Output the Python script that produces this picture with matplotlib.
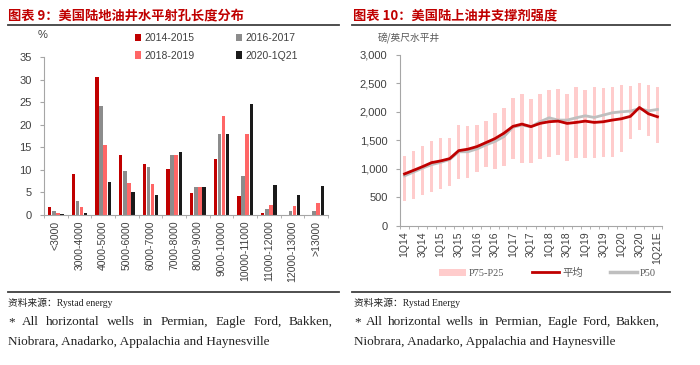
import matplotlib.pyplot as plt
import numpy as np

plt.rcParams['font.family'] = ['Liberation Sans', 'Noto Sans CJK SC']

# ---- left chart: horizontal lateral length distribution (%)
length_bins = ['<3000', '3000-4000', '4000-5000', '5000-6000', '6000-7000',
               '7000-8000', '8000-9000', '9000-10000', '10000-11000',
               '11000-12000', '12000-13000', '>13000']
share_2014_2015 = [1.7, 9.1, 30.6, 13.3, 11.3, 10.2, 4.9, 12.4, 4.3, 0.4, 0.0, 0.1]
share_2016_2017 = [0.9, 3.2, 24.2, 9.7, 10.7, 13.3, 6.3, 18.0, 8.7, 1.4, 0.8, 0.9]
share_2018_2019 = [0.5, 1.7, 15.4, 7.0, 6.9, 13.4, 6.3, 21.9, 17.9, 2.3, 2.0, 2.7]
share_2020_1q21 = [0.3, 0.5, 7.3, 5.2, 4.5, 14.0, 6.3, 18.0, 24.6, 6.7, 4.5, 6.5]
period_labels = ['2014-2015', '2016-2017', '2018-2019', '2020-1Q21']

# ---- right chart: proppant intensity (lbs per lateral foot)
quarters = ['1Q14', '2Q14', '3Q14', '4Q14', '1Q15', '2Q15', '3Q15', '4Q15',
            '1Q16', '2Q16', '3Q16', '4Q16', '1Q17', '2Q17', '3Q17', '4Q17',
            '1Q18', '2Q18', '3Q18', '4Q18', '1Q19', '2Q19', '3Q19', '4Q19',
            '1Q20', '2Q20', '3Q20', '4Q20', '1Q21E']
p75 = [1225, 1320, 1400, 1483, 1535, 1535, 1762, 1750, 1773, 1837, 1985, 2060,
       2250, 2308, 2221, 2320, 2378, 2401, 2308, 2436, 2378, 2436, 2424, 2436,
       2465, 2453, 2506, 2471, 2436]
p25 = [440, 475, 535, 590, 650, 705, 830, 845, 948, 1030, 1000, 1052,
       1165, 1110, 1095, 1170, 1205, 1245, 1130, 1185, 1190, 1190, 1205, 1212,
       1297, 1515, 1678, 1580, 1455]
mean = [912, 975, 1040, 1110, 1140, 1180, 1320, 1345, 1390, 1460, 1530, 1625,
        1745, 1785, 1740, 1797, 1826, 1837, 1797, 1814, 1837, 1814, 1826, 1855,
        1878, 1920, 2076, 1965, 1913]
p50 = [878, 945, 1015, 1075, 1115, 1165, 1300, 1300, 1349, 1420, 1480, 1565,
       1730, 1767, 1738, 1826, 1895, 1855, 1855, 1895, 1930, 1901, 1942, 1983,
       2000, 2012, 2055, 2017, 2041]

note_line1 = '* All horizontal wells in Permian, Eagle Ford, Bakken,'
note_line2 = 'Niobrara, Anadarko, Appalachia and Haynesville'

W, H = 700, 365
fig = plt.figure(figsize=(7, 3.65), dpi=100)
renderer = fig.canvas.get_renderer()


def box(x0, y0, x1, y1):
    # pixel box (top-left origin) -> figure fraction rect
    return [x0 / W, 1 - y1 / H, (x1 - x0) / W, (y1 - y0) / H]


def hline(x0, x1, y, lw=1.3, color='#404040'):
    fig.add_artist(plt.Line2D([x0 / W, x1 / W], [1 - y / H, 1 - y / H],
                              color=color, lw=lw, transform=fig.transFigure))


def justified(text, x0, x1, y, **kw):
    # spread words so the line fills x0..x1 (pixels)
    words = text.split()
    items = [fig.text(0, 1 - y / H, w, **kw) for w in words]
    widths = [t.get_window_extent(renderer).width for t in items]
    gap = (x1 - x0 - sum(widths)) / (len(words) - 1)
    pos = x0
    for t, w in zip(items, widths):
        t.set_x(pos / W)
        pos += w + gap


RED = '#C00000'
TICK = '#404040'
AXC = '#A6A6A6'

# titles + rules
title_font = dict(color=RED, fontsize=9.5, fontweight='bold',
                  family=['Noto Sans CJK SC', 'DejaVu Sans'], va='center')
fig.text(8 / W, 1 - 15 / H, '图表 9：美国陆地油井水平射孔长度分布', **title_font)
fig.text(353 / W, 1 - 15 / H, '图表 10：美国陆上油井支撑剂强度', **title_font)
hline(8, 339, 25)
hline(352, 670, 25)
hline(8, 339, 292)
hline(352, 670, 292)

note_font = dict(family=['Liberation Serif', 'Noto Sans CJK SC'], color='#222222', va='center')
for x0, x1, src in ((8, 333, 'Rystad energy'), (354, 660, 'Rystad Energy')):
    fig.text(x0 / W, 1 - 303 / H, '资料来源：' + src, fontsize=7, **note_font)
    justified(note_line1, x0, x1, 322, fontsize=9.5, **note_font)
    fig.text(x0 / W, 1 - 342 / H, note_line2, fontsize=9.5, **note_font)

# ---------------- left chart
ax1 = fig.add_axes(box(44, 57, 328, 215))
x = np.arange(len(length_bins))
colors = [RED, '#8C8C8C', '#FF6666', '#1A1A1A']
series = [share_2014_2015, share_2016_2017, share_2018_2019, share_2020_1q21]
step = 0.175
handles = []
for i, (vals, c, lab) in enumerate(zip(series, colors, period_labels)):
    b = ax1.bar(x + (i - 1.5) * step, vals, width=0.15, color=c, label=lab)
    handles.append(b)
ax1.set_xlim(-0.5, len(length_bins) - 0.5)
ax1.set_ylim(0, 35)
ax1.set_yticks(range(0, 36, 5))
ax1.set_xticks(x)
ax1.set_xticklabels(length_bins, rotation=90)
ax1.set_xticks(np.arange(-0.5, len(length_bins), 1), minor=True)
ax1.tick_params(axis='x', which='major', length=0, pad=4, labelsize=7.5, colors=TICK)
ax1.tick_params(axis='x', which='minor', length=2.5, color=AXC, direction='out')
ax1.tick_params(axis='y', length=3, color=AXC, labelsize=8, colors=TICK, pad=6)
ax1.tick_params(axis='y', colors=AXC, labelcolor=TICK)
for s in ('top', 'right'):
    ax1.spines[s].set_visible(False)
for s in ('left', 'bottom'):
    ax1.spines[s].set_color(AXC)
fig.text(43 / W, 1 - 35 / H, '%', fontsize=8, color=TICK, ha='center', va='center')
# row-wise order: 2014-2015, 2016-2017 / 2018-2019, 2020-1Q21
order = [0, 2, 1, 3]
ax1.legend(handles=[handles[i] for i in order], ncol=2, frameon=False, fontsize=7.5,
           handlelength=0.55, handleheight=0.75, handletextpad=0.35,
           columnspacing=4.0, labelspacing=0.75, labelcolor=TICK,
           loc='upper left', bbox_to_anchor=(135 / W, 1 - 33 / H),
           bbox_transform=fig.transFigure, borderaxespad=0, borderpad=0)

# ---------------- right chart
ax2 = fig.add_axes(box(400, 54.7, 662, 226))
q = np.arange(len(quarters))
p75a = np.array(p75)
p25a = np.array(p25)
bars = ax2.bar(q, p75a - p25a, bottom=p25a, width=0.38, color='#FFCCCC',
               label='P75-P25')
l_mean, = ax2.plot(q, mean, color=RED, lw=2.0, label='平均', zorder=3)
l_p50, = ax2.plot(q, p50, color='#BFBFBF', lw=2.0, label='P50', zorder=2)
ax2.set_xlim(-0.5, len(quarters) - 0.5)
ax2.set_ylim(0, 3000)
ax2.set_yticks(range(0, 3001, 500))
ax2.set_yticklabels([f'{v:,}' for v in range(0, 3001, 500)])
ax2.set_xticks(q[::2])
ax2.set_xticklabels(quarters[::2], rotation=90)
ax2.set_xticks(np.arange(-0.5, len(quarters), 1), minor=True)
ax2.tick_params(axis='x', which='major', length=0, pad=4, labelsize=7.5, colors=TICK)
ax2.tick_params(axis='x', which='minor', length=2.5, color=AXC, direction='out')
ax2.tick_params(axis='y', length=3, color=AXC, labelsize=8, pad=6)
ax2.tick_params(axis='y', colors=AXC, labelcolor=TICK)
for s in ('top', 'right'):
    ax2.spines[s].set_visible(False)
for s in ('left', 'bottom'):
    ax2.spines[s].set_color(AXC)
fig.text(378 / W, 1 - 38 / H, '磅/英尺水平井', fontsize=7, color='#595959',
         family=['Noto Sans CJK SC', 'DejaVu Sans'], va='center')
leg = ax2.legend(handles=[bars, l_mean, l_p50], ncol=3, frameon=False,
                 prop={'family': ['Liberation Serif', 'Noto Sans CJK SC'], 'size': 7.5},
                 labelcolor='#595959', handlelength=2.6, handletextpad=0.3,
                 columnspacing=2.6, loc='center left',
                 bbox_to_anchor=(439 / W, 1 - 273 / H),
                 bbox_transform=fig.transFigure, borderaxespad=0, borderpad=0)
leg.legend_handles[0].set_height(5)
leg.legend_handles[2].set_linewidth(2.5)

fig.savefig('out.png', dpi=100)
